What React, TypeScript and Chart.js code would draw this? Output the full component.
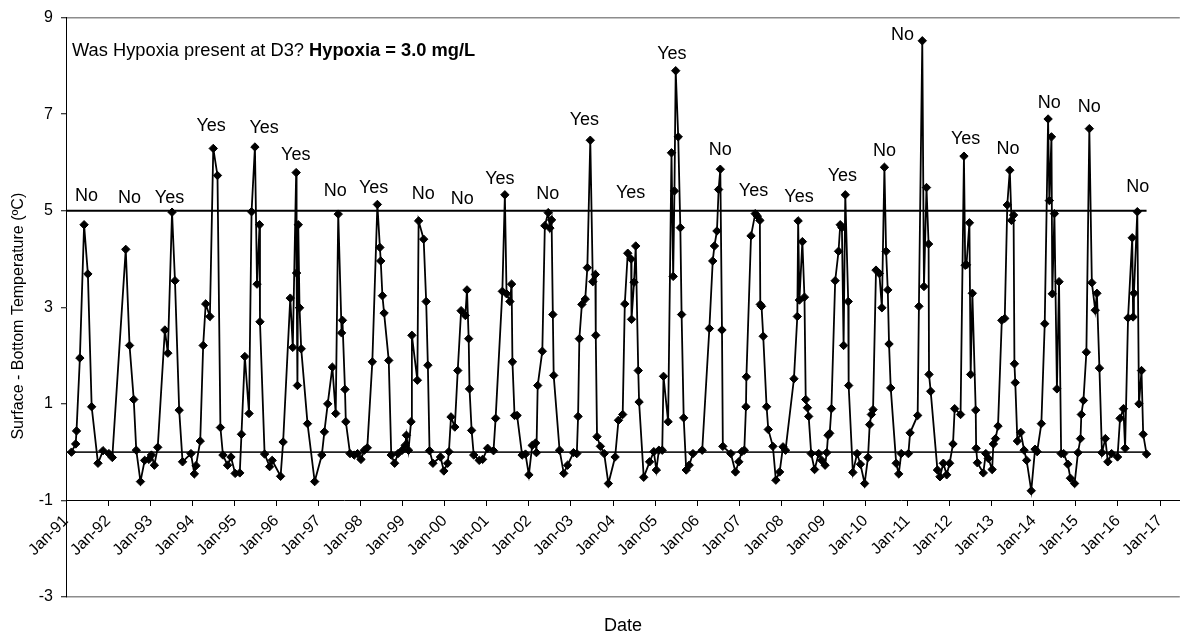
import React, { useEffect, useRef } from "react";
import { Chart, registerables } from "chart.js";

Chart.register(...registerables);

// Sample dates (decimal years) and Surface - Bottom temperature difference (ºC)
const sampleDates = [
  1991.13, 1991.23, 1991.25, 1991.33, 1991.43, 1991.52, 1991.61, 1991.76, 1991.88, 1992.02, 1992.10,
  1992.42, 1992.51, 1992.61, 1992.67, 1992.77, 1992.87, 1992.97, 1993.03, 1993.10, 1993.18,
  1993.35, 1993.42, 1993.52, 1993.59, 1993.69, 1993.77, 1993.97, 1994.05, 1994.09, 1994.19,
  1994.26, 1994.32, 1994.42, 1994.50, 1994.60, 1994.67, 1994.73, 1994.84, 1994.92, 1995.02,
  1995.13, 1995.17, 1995.25, 1995.35, 1995.41, 1995.49, 1995.54, 1995.60, 1995.61, 1995.72,
  1995.84, 1995.90, 1996.10, 1996.16, 1996.33, 1996.39, 1996.47, 1996.48, 1996.50, 1996.52,
  1996.55, 1996.59, 1996.74, 1996.91, 1997.08, 1997.14, 1997.22, 1997.33, 1997.41, 1997.47,
  1997.55, 1997.57, 1997.63, 1997.65, 1997.75, 1997.85, 1997.93, 1998.01, 1998.09, 1998.16,
  1998.28, 1998.40, 1998.46, 1998.48, 1998.52, 1998.56, 1998.67, 1998.73, 1998.81, 1998.89,
  1998.99, 1999.06, 1999.09, 1999.14, 1999.20, 1999.22, 1999.35, 1999.38, 1999.50, 1999.56,
  1999.60, 1999.64, 1999.72, 1999.90, 1999.98, 2000.07, 2000.10, 2000.15, 2000.24, 2000.31,
  2000.39, 2000.49, 2000.53, 2000.57, 2000.59, 2000.64, 2000.69, 2000.82, 2000.90, 2001.02,
  2001.16, 2001.21, 2001.37, 2001.43, 2001.47, 2001.55, 2001.59, 2001.61, 2001.66, 2001.72,
  2001.84, 2001.92, 2002.00, 2002.08, 2002.16, 2002.18, 2002.21, 2002.32, 2002.38, 2002.46,
  2002.50, 2002.54, 2002.57, 2002.59, 2002.73, 2002.83, 2002.92, 2003.06, 2003.14, 2003.17,
  2003.20, 2003.26, 2003.34, 2003.39, 2003.46, 2003.52, 2003.58, 2003.59, 2003.62, 2003.70,
  2003.79, 2003.89, 2004.05, 2004.13, 2004.23, 2004.28, 2004.35, 2004.43, 2004.44, 2004.50,
  2004.54, 2004.60, 2004.62, 2004.73, 2004.87, 2004.97, 2005.03, 2005.09, 2005.17, 2005.20,
  2005.31, 2005.39, 2005.43, 2005.46, 2005.49, 2005.55, 2005.60, 2005.63, 2005.68, 2005.74,
  2005.81, 2005.90, 2006.12, 2006.29, 2006.37, 2006.41, 2006.47, 2006.51, 2006.55, 2006.59,
  2006.61, 2006.80, 2006.91, 2006.99, 2007.06, 2007.12, 2007.16, 2007.17, 2007.28, 2007.38,
  2007.43, 2007.49, 2007.50, 2007.53, 2007.57, 2007.65, 2007.69, 2007.80, 2007.87, 2007.96,
  2008.04, 2008.10, 2008.30, 2008.38, 2008.40, 2008.43, 2008.50, 2008.55, 2008.58, 2008.62,
  2008.65, 2008.71, 2008.79, 2008.89, 2008.96, 2009.04, 2009.08, 2009.11, 2009.15, 2009.19,
  2009.28, 2009.36, 2009.40, 2009.44, 2009.48, 2009.52, 2009.59, 2009.60, 2009.70, 2009.80,
  2009.88, 2009.98, 2010.06, 2010.10, 2010.14, 2010.18, 2010.25, 2010.33, 2010.39, 2010.45,
  2010.49, 2010.53, 2010.56, 2010.60, 2010.73, 2010.79, 2010.85, 2011.02, 2011.06, 2011.24,
  2011.27, 2011.35, 2011.39, 2011.45, 2011.50, 2011.51, 2011.55, 2011.71, 2011.77, 2011.85,
  2011.93, 2012.00, 2012.08, 2012.12, 2012.26, 2012.34, 2012.37, 2012.40, 2012.47, 2012.50,
  2012.54, 2012.62, 2012.63, 2012.66, 2012.80, 2012.86, 2012.92, 2013.01, 2013.04, 2013.09,
  2013.15, 2013.24, 2013.31, 2013.37, 2013.43, 2013.47, 2013.52, 2013.54, 2013.56, 2013.61,
  2013.69, 2013.77, 2013.83, 2013.94, 2014.03, 2014.08, 2014.18, 2014.26, 2014.34, 2014.37,
  2014.42, 2014.44, 2014.49, 2014.55, 2014.60, 2014.65, 2014.71, 2014.81, 2014.87, 2014.97,
  2015.05, 2015.11, 2015.13, 2015.18, 2015.25, 2015.32, 2015.38, 2015.46, 2015.50, 2015.56,
  2015.62, 2015.70, 2015.76, 2015.85, 2015.99, 2016.05, 2016.13, 2016.17, 2016.24, 2016.34,
  2016.36, 2016.38, 2016.46, 2016.50, 2016.56, 2016.60, 2016.68,
];

const tempDiff = [
  0.0, 0.17, 0.44, 1.95, 4.71, 3.69, 0.94, -0.23, 0.03, -0.03, -0.11,
  4.2, 2.21, 1.09, 0.04, -0.61, -0.17, -0.15, -0.06, -0.27, 0.1,
  2.53, 2.05, 4.97, 3.55, 0.87, -0.2, -0.03, -0.45, -0.28, 0.23,
  2.21, 3.07, 2.81, 6.29, 5.73, 0.51, -0.06, -0.27, -0.1, -0.44,
  -0.43, 0.37, 1.98, 0.8, 4.98, 6.32, 3.48, 4.71, 2.7, -0.04,
  -0.3, -0.17, -0.5, 0.21, 3.19, 2.17, 5.79, 3.71, 1.38, 4.71,
  2.99, 2.14, 0.59, -0.61, -0.06, 0.42, 1.0, 1.76, 0.8, 4.93,
  2.47, 2.73, 1.3, 0.63, -0.03, -0.06, -0.03, -0.15, 0.04, 0.09,
  1.87, 5.13, 4.24, 3.96, 3.24, 2.88, 1.9, -0.06, -0.23, -0.03,
  0.04, 0.14, 0.35, 0.04, 0.63, 2.42, 1.49, 4.79, 4.41, 3.12,
  1.8, 0.03, -0.23, -0.1, -0.39, -0.23, 0.01, 0.73, 0.52, 1.69,
  2.93, 2.83, 3.36, 2.35, 1.31, 0.45, -0.06, -0.17, -0.15, 0.08,
  0.03, 0.7, 3.33, 5.33, 3.28, 3.12, 3.48, 1.87, 0.76, 0.76,
  -0.06, -0.04, -0.47, 0.14, 0.19, -0.01, 1.38, 2.09, 4.69, 4.96,
  4.64, 4.81, 2.85, 1.59, 0.04, -0.44, -0.27, -0.01, -0.03, 0.74,
  2.35, 3.06, 3.17, 3.82, 6.46, 3.53, 3.68, 2.42, 0.32, 0.12,
  -0.03, -0.65, -0.1, 0.66, 0.78, 3.07, 4.12, 4.0, 2.75, 3.52,
  4.27, 1.69, 1.04, -0.52, -0.2, 0.01, -0.37, 0.04, 0.04, 1.57,
  0.63, 6.2, 3.64, 5.41, 7.9, 6.53, 4.65, 2.85, 0.71, -0.37,
  -0.27, -0.03, 0.04, 2.56, 3.96, 4.27, 4.58, 5.44, 5.86, 2.53,
  0.12, -0.03, -0.41, -0.2, 0.01, 0.04, 0.94, 1.56, 4.48, 4.94,
  4.89, 4.8, 3.06, 3.02, 2.4, 0.94, 0.47, 0.12, -0.58, -0.41,
  0.11, 0.04, 1.52, 2.81, 4.79, 3.15, 4.36, 3.21, 1.09, 0.92,
  0.74, -0.03, -0.36, -0.03, -0.17, -0.27, -0.01, 0.35, 0.39, 0.9,
  3.55, 4.16, 4.71, 4.65, 2.21, 5.33, 3.12, 1.38, -0.42, -0.03,
  -0.25, -0.65, -0.11, 0.57, 0.78, 0.88, 3.77, 3.7, 2.99, 5.9,
  4.16, 3.36, 2.24, 1.33, -0.23, -0.45, -0.03, -0.03, 0.4, 0.76,
  3.02, 8.52, 3.43, 5.48, 4.31, 1.61, 1.26, -0.37, -0.51, -0.23,
  -0.47, -0.23, 0.17, 0.9, 0.78, 6.13, 3.87, 3.88, 4.75, 1.61,
  3.29, 0.87, 0.08, -0.22, -0.43, -0.03, -0.13, -0.36, 0.17, 0.28,
  0.54, 2.73, 2.77, 5.12, 5.84, 4.8, 4.91, 1.83, 1.44, 0.23,
  0.41, 0.04, -0.17, -0.8, 0.06, 0.01, 0.59, 2.66, 6.9, 5.21,
  6.53, 3.28, 4.94, 1.31, 3.53, -0.03, -0.03, -0.25, -0.54, -0.65,
  -0.01, 0.28, 0.78, 1.07, 2.07, 6.7, 3.51, 2.94, 3.29, 1.74,
  -0.01, 0.28, -0.2, -0.03, -0.1, 0.7, 0.9, 0.08, 2.78, 4.44,
  2.8, 3.29, 4.98, 1.0, 1.69, 0.37, -0.04,
];

// Reference levels drawn as horizontal series
const thresholdLevel = 5;
const zeroLevel = 0;
const refStart = 1991;

// Axis ticks
const yTicks = [-3, -1, 1, 3, 5, 7, 9];
const yearTicks = [
  1991, 1992, 1993, 1994, 1995, 1996, 1997, 1998, 1999, 2000, 2001, 2002, 2003, 2004,
  2005, 2006, 2007, 2008, 2009, 2010, 2011, 2012, 2013, 2014, 2015, 2016, 2017,
];

// "Was hypoxia present" annotations (label, date, level)
const hypoxiaLabels = [
  "No", "No", "Yes", "Yes", "Yes", "Yes", "No", "Yes", "No", "No", "Yes", "No", "Yes",
  "Yes", "Yes", "No", "Yes", "Yes", "Yes", "No", "No", "Yes", "No", "No", "No", "No",
];
const labelDates = [
  1991.49, 1992.51, 1993.46, 1994.45, 1995.71, 1996.46, 1997.4, 1998.31, 1999.49, 2000.42,
  2001.31, 2002.45, 2003.32, 2004.42, 2005.4, 2006.55, 2007.34, 2008.42, 2009.45, 2010.45,
  2010.88, 2012.38, 2013.39, 2014.37, 2015.32, 2016.47,
];
const labelLevels = [
  5.31, 5.27, 5.27, 6.75, 6.72, 6.15, 5.41, 5.46, 5.34, 5.24, 5.65, 5.34, 6.87, 5.36, 8.25,
  6.26, 5.41, 5.28, 5.72, 6.23, 8.64, 6.48, 6.27, 7.23, 7.15, 5.49,
];

const FONT = "'Liberation Sans', Arial, Helvetica, sans-serif";

export default function App() {
  const ref = useRef<HTMLCanvasElement>(null);

  useEffect(() => {
    document.body.style.margin = "0";
    const canvas = ref.current;
    if (!canvas) return;
    const refEnd = sampleDates[sampleDates.length - 1];

    const annoPlugin = {
      id: "hypoxiaAnno",
      afterDatasetsDraw(chart: any) {
        const { ctx, scales, chartArea } = chart;
        const x = scales.x;
        const y = scales.y;
        ctx.save();
        ctx.fillStyle = "#000";
        ctx.font = `18px ${FONT}`;
        ctx.textAlign = "center";
        ctx.textBaseline = "middle";
        hypoxiaLabels.forEach((t, i) => {
          ctx.fillText(t, x.getPixelForValue(labelDates[i]), y.getPixelForValue(labelLevels[i]));
        });
        ctx.textAlign = "left";
        const tx = chartArea.left + 6;
        const ty = chartArea.top + 33;
        const part1 = "Was Hypoxia present at D3? ";
        ctx.font = `18.3px ${FONT}`;
        ctx.fillText(part1, tx, ty);
        const w = ctx.measureText(part1).width;
        ctx.font = `bold 18.3px ${FONT}`;
        ctx.fillText("Hypoxia = 3.0 mg/L", tx + w, ty);
        ctx.restore();
      },
    };

    const chart = new Chart(canvas, {
      type: "line",
      data: {
        datasets: [
          {
            label: "Surface - Bottom",
            data: sampleDates.map((d, i) => ({ x: d, y: tempDiff[i] })),
            borderColor: "#000",
            backgroundColor: "#000",
            borderWidth: 1.8,
            pointStyle: "rectRot",
            pointRadius: 4.2,
            pointBorderWidth: 1,
            pointBackgroundColor: "#000",
            pointBorderColor: "#000",
            tension: 0,
          },
          {
            label: "5",
            data: [
              { x: refStart, y: thresholdLevel },
              { x: refEnd, y: thresholdLevel },
            ],
            borderColor: "#000",
            borderWidth: 1.8,
            pointRadius: 0,
          },
          {
            label: "0",
            data: [
              { x: refStart, y: zeroLevel },
              { x: refEnd, y: zeroLevel },
            ],
            borderColor: "#222",
            borderWidth: 1.8,
            pointRadius: 0,
          },
        ],
      },
      options: {
        responsive: false,
        animation: false,
        layout: { padding: { top: 16, left: 0, right: 0, bottom: 0 } },
        plugins: { legend: { display: false }, tooltip: { enabled: false } },
        scales: {
          x: {
            type: "linear",
            min: 1991,
            max: 2017.47,
            position: { y: -1 } as any,
            afterBuildTicks: (s: any) => {
              s.ticks = yearTicks.map((v) => ({ value: v }));
            },
            ticks: {
              autoSkip: false,
              minRotation: 45,
              maxRotation: 45,
              padding: 6,
              color: "#000",
              font: { family: FONT, size: 16 },
              callback: (v: any) => "Jan-" + String(Number(v) % 100).padStart(2, "0"),
            },
            grid: { drawOnChartArea: false, drawTicks: true, tickLength: 5, tickColor: "#000" },
            border: { display: true, color: "#000", width: 1 },
          },
          xTitle: {
            type: "linear",
            min: 1991,
            max: 2017.47,
            position: "bottom",
            ticks: { display: false },
            grid: { display: false },
            border: { display: false },
            title: {
              display: true,
              text: "Date",
              color: "#000",
              font: { family: FONT, size: 18 },
              padding: { top: 0, bottom: 0 },
            },
            afterFit: (s: any) => {
              s.height = 40;
            },
          },
          y: {
            type: "linear",
            min: -3,
            max: 9,
            position: "left",
            afterBuildTicks: (s: any) => {
              s.ticks = yTicks.map((v) => ({ value: v }));
            },
            ticks: {
              padding: 8,
              color: "#000",
              font: { family: FONT, size: 16 },
              callback: (v: any) => String(v),
            },
            grid: {
              color: (c: any) =>
                c.tick && (c.tick.value === -3 || c.tick.value === 9) ? "#8c8c8c" : "rgba(0,0,0,0)",
              lineWidth: 1.5,
              tickColor: "#000",
              tickWidth: 1,
              tickLength: 5,
              drawTicks: true,
            },
            border: { display: true, color: "#000", width: 1 },
            title: {
              display: true,
              text: "Surface - Bottom Temperature (ºC)    ",
              color: "#000",
              font: { family: FONT, size: 16 },
              padding: { top: 9, bottom: 0 },
            },
            afterFit: (s: any) => {
              s.width = 66;
            },
          },
        },
      } as any,
      plugins: [annoPlugin],
    });
    return () => chart.destroy();
  }, []);

  return <canvas ref={ref} width={1185} height={637} style={{ display: "block" }} />;
}
